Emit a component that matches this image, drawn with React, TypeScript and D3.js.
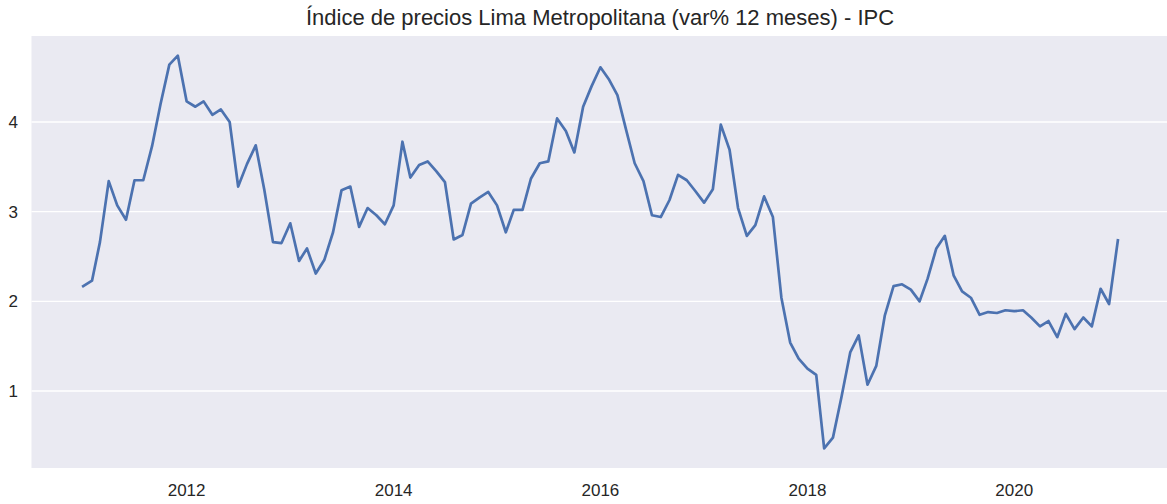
import React, { useEffect, useRef } from 'react';
import * as d3 from 'd3';

// IPC Lima Metropolitana, variación % 12 meses, ene-2011 .. ene-2021
const startMonth = new Date(2011, 0, 1);
const ipcValues: number[] = [
  // 2011
  2.17, 2.23, 2.66, 3.34, 3.07, 2.91, 3.35, 3.35, 3.73, 4.20, 4.64, 4.74,
  // 2012
  4.23, 4.17, 4.23, 4.08, 4.14, 4.00, 3.28, 3.53, 3.74, 3.25, 2.66, 2.65,
  // 2013
  2.87, 2.45, 2.59, 2.31, 2.46, 2.77, 3.24, 3.28, 2.83, 3.04, 2.96, 2.86,
  // 2014
  3.07, 3.78, 3.38, 3.52, 3.56, 3.45, 3.33, 2.69, 2.74, 3.09, 3.16, 3.22,
  // 2015
  3.07, 2.77, 3.02, 3.02, 3.37, 3.54, 3.56, 4.04, 3.90, 3.66, 4.17, 4.40,
  // 2016
  4.61, 4.47, 4.30, 3.91, 3.54, 3.34, 2.96, 2.94, 3.13, 3.41, 3.35, 3.23,
  // 2017
  3.10, 3.25, 3.97, 3.69, 3.04, 2.73, 2.85, 3.17, 2.94, 2.04, 1.54, 1.36,
  // 2018
  1.25, 1.18, 0.36, 0.48, 0.93, 1.43, 1.62, 1.07, 1.28, 1.84, 2.17, 2.19,
  // 2019
  2.13, 2.00, 2.25, 2.59, 2.73, 2.29, 2.11, 2.04, 1.85, 1.88, 1.87, 1.90,
  // 2020
  1.89, 1.90, 1.82, 1.72, 1.78, 1.60, 1.86, 1.69, 1.82, 1.72, 2.14, 1.97,
  // 2021
  2.68,
];
const yTicks = [1, 2, 3, 4];
const titleText = 'Índice de precios Lima Metropolitana (var% 12 meses) - IPC';

const W = 1167;
const H = 504;
const FONT = '"Liberation Sans", Arial, sans-serif';

export default function App() {
  const svgRef = useRef<SVGSVGElement>(null);

  useEffect(() => {
    const svg = d3.select(svgRef.current);
    svg.selectAll('*').remove();

    const data = ipcValues.map((v, i) => ({ date: d3.timeMonth.offset(startMonth, i), value: v }));

    // matplotlib-like 5% margins
    const [d0, d1] = d3.extent(data, d => +d.date) as [number, number];
    const dPad = (d1 - d0) * 0.05;
    const [v0, v1] = d3.extent(data, d => d.value) as [number, number];
    const vPad = (v1 - v0) * 0.05;

    const left = 31.5, right = 1169.6, top = 36, bottom = 468;

    const x = d3.scaleTime().domain([new Date(d0 - dPad), new Date(d1 + dPad)]).range([left, right]);
    const y = d3.scaleLinear().domain([v0 - vPad, v1 + vPad]).range([bottom, top]);

    svg.append('rect')
      .attr('x', left).attr('y', top)
      .attr('width', right - left).attr('height', bottom - top)
      .attr('fill', '#eaeaf2');

    // horizontal grid only
    svg.append('g').selectAll('line')
      .data(yTicks)
      .enter().append('line')
      .attr('x1', left).attr('x2', right)
      .attr('y1', d => y(d)).attr('y2', d => y(d))
      .attr('stroke', '#fff').attr('stroke-width', 1.3);

    const xTicks = x.ticks(d3.timeYear.every(2)!);

    // tick labels
    svg.append('g').selectAll('text')
      .data(yTicks)
      .enter().append('text')
      .attr('x', 18).attr('y', d => y(d))
      .attr('dy', '0.36em')
      .attr('text-anchor', 'end')
      .style('font-family', FONT).style('font-size', '17px').style('fill', '#262626')
      .text(d => d3.format('d')(d));

    svg.append('g').selectAll('text')
      .data(xTicks)
      .enter().append('text')
      .attr('x', d => x(d)).attr('y', 496)
      .attr('text-anchor', 'middle')
      .style('font-family', FONT).style('font-size', '17px').style('fill', '#262626')
      .text(d => d3.timeFormat('%Y')(d));

    // line
    const line = d3.line<{ date: Date; value: number }>()
      .x(d => x(d.date))
      .y(d => y(d.value));

    svg.append('path')
      .datum(data)
      .attr('d', line)
      .attr('fill', 'none')
      .attr('stroke', '#4c72b0')
      .attr('stroke-width', 2.7)
      .attr('stroke-linejoin', 'round')
      .attr('stroke-linecap', 'square');

    svg.append('text')
      .attr('x', 600).attr('y', 25)
      .attr('text-anchor', 'middle')
      .style('font-family', FONT).style('font-size', '22px').style('fill', '#262626')
      .text(titleText);
  }, []);

  return (
    <svg
      ref={svgRef}
      width={W}
      height={H}
      style={{ position: 'absolute', left: 0, top: 0, background: '#fff', overflow: 'hidden' }}
    />
  );
}
